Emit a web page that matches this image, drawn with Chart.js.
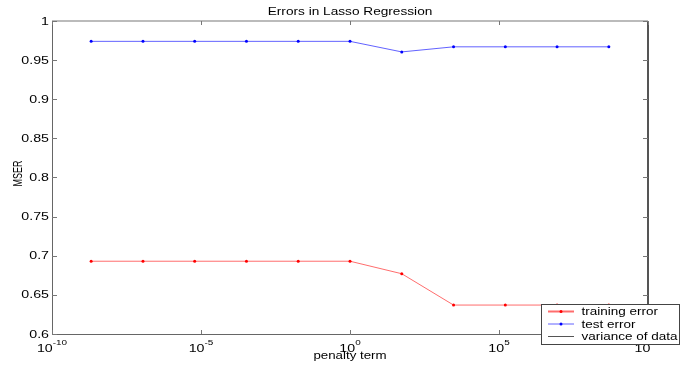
<!DOCTYPE html>
<html>
<head>
<meta charset="utf-8">
<title>Errors in Lasso Regression</title>
<script src="https://cdn.jsdelivr.net/npm/chart.js@4/dist/chart.umd.min.js"></script>
<style>
  html, body { margin: 0; padding: 0; background: #fff; }
  canvas { display: block; }
</style>
</head>
<body>
<canvas id="canvas-1" width="681" height="366"></canvas>
<script>
// penalty values (e^-20 ... e^20, step e^4)
var penalty = [2.06e-9, 1.13e-7, 6.14e-6, 3.35e-4, 1.83e-2, 1, 54.6, 2981, 1.63e5, 8.89e6, 4.85e8];
var trainingError = [0.693, 0.693, 0.693, 0.693, 0.693, 0.693, 0.677, 0.637, 0.637, 0.637, 0.637];
var testError = [0.974, 0.974, 0.974, 0.974, 0.974, 0.974, 0.9605, 0.967, 0.967, 0.967, 0.967];
var varianceOfData = []; // not visible inside the axes

var xTicks = [1e-10, 1e-5, 1, 1e5, 1e10];
var xTickExp = ['-10', '-5', '0', '5', '10'];
var yTicks = [0.6, 0.65, 0.7, 0.75, 0.8, 0.85, 0.9, 0.95, 1];
var yTickLabels = ['0.6', '0.65', '0.7', '0.75', '0.8', '0.85', '0.9', '0.95', '1'];

var FONT = '"Liberation Sans", Arial, Helvetica, sans-serif';

function toPoints(xs, ys) {
  var out = [];
  for (var i = 0; i < ys.length; i++) out.push({x: xs[i], y: ys[i]});
  return out;
}

// matlab output is stretched sideways, so text gets a horizontal scale
function wideText(ctx, text, x, y, size, sx, align) {
  ctx.save();
  ctx.translate(x, y);
  ctx.scale(sx, 1);
  ctx.font = size + 'px ' + FONT;
  ctx.textAlign = align || 'left';
  ctx.textBaseline = 'alphabetic';
  ctx.fillStyle = '#000';
  ctx.fillText(text, 0, 0);
  ctx.restore();
}

var matlabAxes = {
  id: 'matlabAxes',
  afterDatasetsDraw: function(chart) {
    var ctx = chart.ctx;
    var a = chart.chartArea;
    var xs = chart.scales.x, ys = chart.scales.y;

    ctx.save();
    // box
    ctx.lineWidth = 1;
    ctx.strokeStyle = '#666';
    ctx.beginPath();
    ctx.moveTo(a.left + 0.5, a.top);
    ctx.lineTo(a.left + 0.5, a.bottom + 0.5);
    ctx.lineTo(a.right, a.bottom + 0.5);
    ctx.stroke();
    ctx.lineWidth = 2;
    ctx.strokeStyle = '#555';
    ctx.beginPath();
    ctx.moveTo(a.right, a.top);
    ctx.lineTo(a.right, a.bottom + 1);
    ctx.stroke();
    ctx.strokeStyle = '#bbb';
    ctx.beginPath();
    ctx.moveTo(a.left, a.top);
    ctx.lineTo(a.right, a.top);
    ctx.stroke();

    // inward ticks
    ctx.lineWidth = 1;
    ctx.strokeStyle = '#777';
    ctx.beginPath();
    yTicks.forEach(function(v) {
      var py = Math.round(ys.getPixelForValue(v)) + 0.5;
      ctx.moveTo(a.left, py); ctx.lineTo(a.left + 5, py);
      ctx.moveTo(a.right, py); ctx.lineTo(a.right - 5, py);
    });
    xTicks.forEach(function(v) {
      var px = Math.round(xs.getPixelForValue(v)) + 0.5;
      ctx.moveTo(px, a.bottom); ctx.lineTo(px, a.bottom - 4);
      ctx.moveTo(px, a.top); ctx.lineTo(px, a.top + 4);
    });
    ctx.stroke();
    ctx.restore();

    // y tick labels
    yTicks.forEach(function(v, i) {
      var py = ys.getPixelForValue(v);
      wideText(ctx, yTickLabels[i], a.left - 3, py + 3.6, 10, 1.42, 'right');
    });

    // x tick labels, 10 with a superscript
    xTicks.forEach(function(v, i) {
      var px = xs.getPixelForValue(v);
      ctx.save();
      ctx.font = '10px ' + FONT;
      var w1 = ctx.measureText('10').width * 1.42;
      ctx.font = '7px ' + FONT;
      var w2 = ctx.measureText(xTickExp[i]).width * 1.42;
      ctx.restore();
      var x0 = px - (w1 + w2) / 2;
      wideText(ctx, '10', x0, 351.5, 10, 1.42, 'left');
      wideText(ctx, xTickExp[i], x0 + w1, 345, 7, 1.42, 'left');
    });

    // title and axis labels
    wideText(ctx, 'Errors in Lasso Regression', (a.left + a.right) / 2, 15, 10.5, 1.3, 'center');
    wideText(ctx, 'penalty term', (a.left + a.right) / 2, 358.5, 10, 1.33, 'center');
    ctx.save();
    ctx.translate(22, 173.5);
    ctx.scale(1.4, 1);
    ctx.rotate(-Math.PI / 2);
    ctx.font = '9px ' + FONT;
    ctx.textAlign = 'center';
    ctx.fillStyle = '#000';
    ctx.fillText('MSER', 0, 0);
    ctx.restore();
  },
  afterDraw: function(chart) {
    // legend box sitting over the lower right corner
    var ctx = chart.ctx;
    var bx = 541.5, by = 304.5, bw = 138, bh = 40;
    ctx.save();
    ctx.fillStyle = '#fff';
    ctx.fillRect(bx, by, bw, bh);
    ctx.strokeStyle = '#444';
    ctx.lineWidth = 1;
    ctx.strokeRect(bx, by, bw, bh);
    var rows = [311.5, 324, 336.5];
    chart.data.datasets.forEach(function(ds, i) {
      var ry = rows[i];
      ctx.strokeStyle = ds.borderColor;
      ctx.lineWidth = ds.legendWidth;
      ctx.beginPath();
      ctx.moveTo(548, ry);
      ctx.lineTo(574, ry);
      ctx.stroke();
      if (ds.pointRadius > 0) {
        ctx.fillStyle = ds.pointBackgroundColor;
        ctx.beginPath();
        ctx.arc(561, ry, 1.5, 0, Math.PI * 2);
        ctx.fill();
      }
      wideText(ctx, ds.label, 581.5, ry + 3.6, 10, 1.35, 'left');
    });
    ctx.restore();
  }
};

var ctx = document.getElementById('canvas-1').getContext('2d');
var chart = new Chart(ctx, {
  type: 'line',
  data: {
    datasets: [
      {
        label: 'training error',
        data: toPoints(penalty, trainingError),
        borderColor: 'rgba(255,60,60,0.75)',
        pointBackgroundColor: '#ff0000',
        pointBorderColor: '#ff0000',
        borderWidth: 1,
        legendWidth: 2,
        pointRadius: 1.5,
        pointBorderWidth: 0,
        tension: 0
      },
      {
        label: 'test error',
        data: toPoints(penalty, testError),
        borderColor: 'rgba(70,70,255,0.85)',
        pointBackgroundColor: '#0000ff',
        pointBorderColor: '#0000ff',
        borderWidth: 1,
        legendWidth: 1,
        pointRadius: 1.5,
        pointBorderWidth: 0,
        tension: 0
      },
      {
        label: 'variance of data',
        data: varianceOfData,
        borderColor: '#555',
        borderWidth: 1,
        legendWidth: 1,
        pointRadius: 0
      }
    ]
  },
  options: {
    responsive: false,
    animation: false,
    devicePixelRatio: 1,
    layout: { padding: { left: 52, right: 33, top: 21, bottom: 32 } },
    scales: {
      x: { type: 'logarithmic', min: 1e-10, max: 1e10, display: false },
      y: { type: 'linear', min: 0.6, max: 1, display: false }
    },
    plugins: {
      legend: { display: false },
      title: { display: false },
      tooltip: { enabled: false }
    }
  },
  plugins: [matlabAxes]
});
</script>
</body>
</html>
